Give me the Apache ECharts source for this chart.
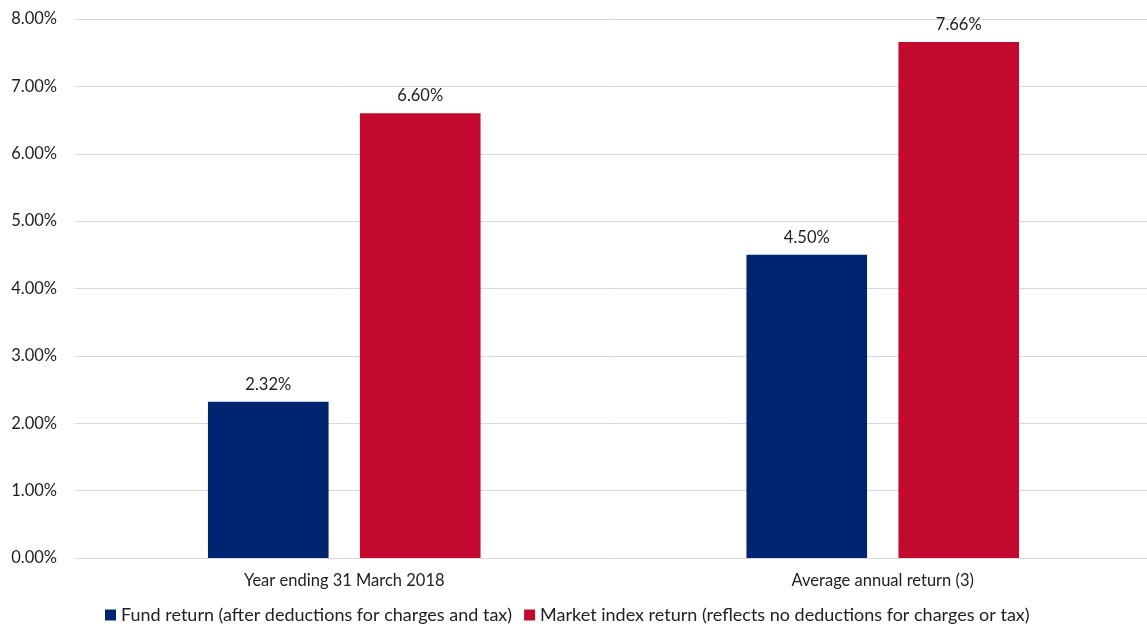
<!DOCTYPE html>
<html>
<head>
<meta charset="utf-8">
<script src="https://cdn.jsdelivr.net/npm/echarts@6/dist/echarts.min.js"></script>
<style>
  html, body { margin: 0; padding: 0; background: #fff; }
  #main { width: 1147px; height: 631px; }
</style>
</head>
<body>
<div id="main"></div>
<script>
// data
const categories = ['Year ending 31 March 2018', 'Average annual return (3)'];
const fundReturn = [2.32, 4.50];
const marketReturn = [6.60, 7.66];
const seriesNames = [
  'Fund return (after deductions for charges and tax)',
  'Market index return (reflects no deductions for charges or tax)'
];

const chart = echarts.init(document.getElementById('main'));
const font = 'Lato, "Open Sans", sans-serif';

const labelOpt = {
  show: true,
  position: 'top',
  distance: 9,
  color: '#222',
  fontSize: 16.5,
  fontFamily: font,
  formatter: p => p.value.toFixed(2) + '%'
};

const option = {
  animation: false,
  backgroundColor: '#fff',
  textStyle: { fontFamily: font },
  legend: {
    bottom: 2,
    left: 100,
    itemWidth: 11,
    itemHeight: 11,
    itemGap: 12,
    icon: 'rect',
    textStyle: { color: '#222', fontSize: 18, fontFamily: font },
    data: seriesNames
  },
  grid: {
    left: 75,
    top: 19,
    width: 1077,
    bottom: 73,
    containLabel: false,
    outerBoundsMode: 'none'
  },
  xAxis: {
    type: 'category',
    data: categories,
    axisTick: { show: false },
    axisLine: { show: false },
    axisLabel: { color: '#222', fontSize: 16.5, fontFamily: font, margin: 14 }
  },
  yAxis: {
    type: 'value',
    min: 0,
    max: 8,
    interval: 1,
    axisLabel: {
      color: '#222',
      fontSize: 16.5,
      fontFamily: font,
      margin: 18,
      formatter: v => v.toFixed(2) + '%'
    },
    splitLine: { lineStyle: { color: '#d9d9d9', width: 1 } },
    axisLine: { show: false },
    axisTick: { show: false }
  },
  series: [
    {
      name: seriesNames[0],
      type: 'bar',
      data: fundReturn,
      barWidth: '22.4%',
      barGap: '26%',
      itemStyle: { color: '#002570' },
      label: labelOpt
    },
    {
      name: seriesNames[1],
      type: 'bar',
      data: marketReturn,
      barWidth: '22.4%',
      itemStyle: { color: '#c4092f' },
      label: labelOpt
    }
  ]
};

chart.setOption(option);
</script>
</body>
</html>
